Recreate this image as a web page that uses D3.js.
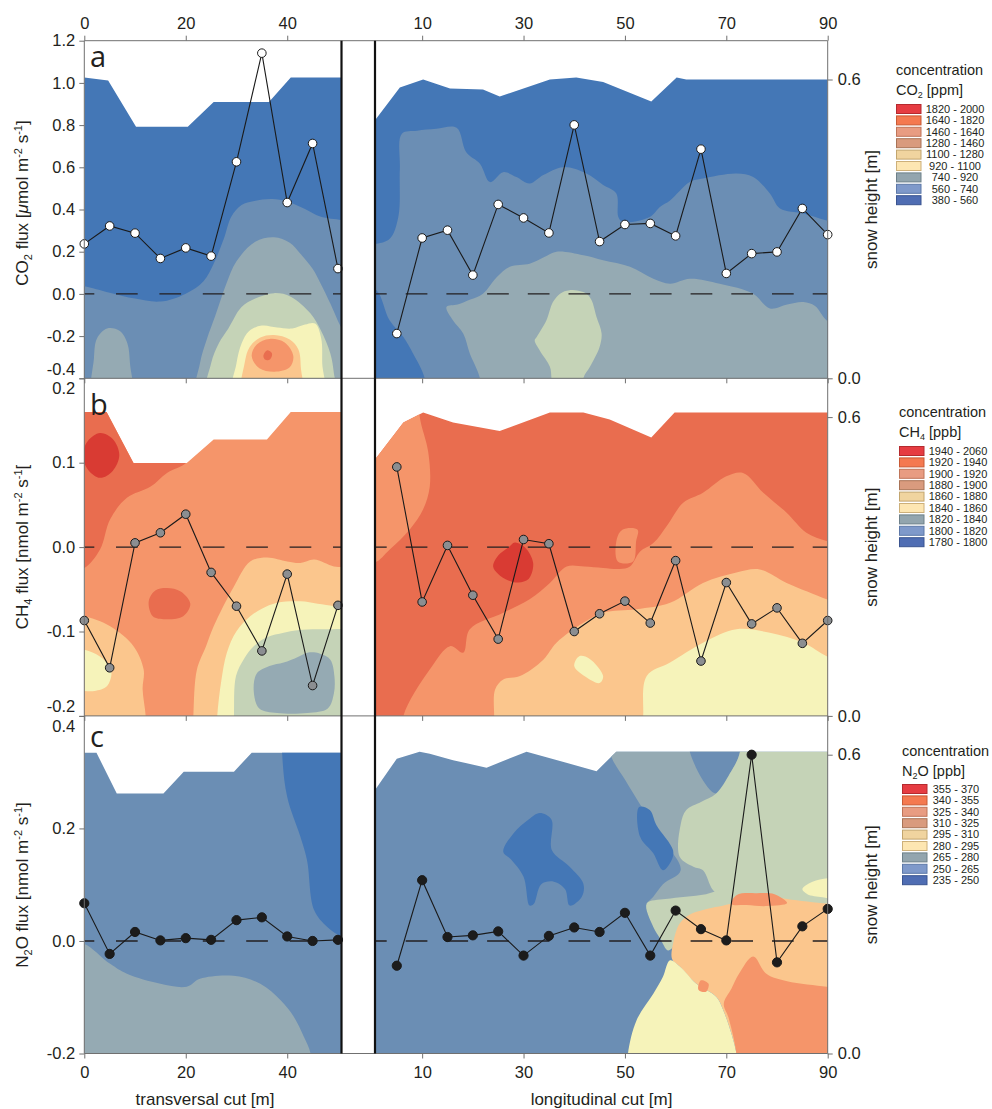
<!DOCTYPE html>
<html><head><meta charset="utf-8">
<script src="https://cdn.jsdelivr.net/npm/d3@7"></script>
<style>
body{margin:0;background:#fff;}
svg{display:block;font-family:"Liberation Sans",Arial,sans-serif;}
</style></head><body>
<svg id="chart" width="992" height="1109"></svg>
<script>
// ================= DATA =================
const transDist = [0,5,10,15,20,25,30,35,40,45,50];
const longDist  = [5,10,15,20,25,30,35,40,45,50,55,60,65,70,75,80,85,90];

const co2FluxTrans = [0.237,0.322,0.288,0.168,0.218,0.179,0.626,1.141,0.433,0.713,0.120];
const co2FluxLong  = [-0.188,0.265,0.302,0.089,0.424,0.360,0.289,0.801,0.248,0.329,0.334,0.275,0.686,0.097,0.191,0.199,0.405,0.281];
const ch4FluxTrans = [-0.087,-0.143,0.005,0.017,0.039,-0.030,-0.070,-0.123,-0.032,-0.164,-0.069];
const ch4FluxLong  = [0.095,-0.065,0.002,-0.057,-0.109,0.009,0.004,-0.100,-0.079,-0.064,-0.090,-0.016,-0.135,-0.042,-0.091,-0.072,-0.114,-0.087];
const n2oFluxTrans = [0.067,-0.023,0.016,0.001,0.005,0.002,0.037,0.042,0.008,0.000,0.002];
const n2oFluxLong  = [-0.044,0.108,0.007,0.010,0.017,-0.026,0.009,0.024,0.016,0.050,-0.026,0.054,0.021,0.001,0.331,-0.038,0.026,0.057];

// snow surface profiles [distance m, snow height m]
const snowTransA = [[0,0.604],[4.7,0.598],[10.2,0.505],[20.4,0.505],[25.5,0.555],[36.4,0.555],[40.7,0.604],[50.7,0.604]];
const snowLongA  = [[0.7,0.518],[5.6,0.584],[10.2,0.600],[15.5,0.582],[22,0.580],[25.3,0.566],[35.2,0.600],[40.4,0.604],[45.7,0.595],[55.2,0.556],[60.2,0.604],[62.1,0.600],[90,0.600]];
const snowTransB = [[0,0.61],[4.4,0.61],[9.7,0.508],[20.2,0.508],[25.5,0.555],[36,0.555],[40.7,0.61],[50.7,0.61]];
const snowLongB  = [[0.7,0.515],[6.3,0.589],[10.2,0.609],[16.1,0.589],[25.3,0.572],[35.2,0.609],[41.8,0.609],[47,0.595],[55.2,0.559],[59.8,0.609],[90,0.609]];
const snowTransC = [[0,0.604],[2.4,0.604],[6.4,0.522],[15.6,0.522],[19.6,0.566],[29.5,0.566],[33,0.604],[50.7,0.604]];
const snowLongC  = [[0.7,0.529],[5,0.592],[9.5,0.606],[11.5,0.602],[16.1,0.589],[22.7,0.574],[30.6,0.606],[44.4,0.567],[48.3,0.606],[90,0.606]];

// concentration class breaks
const co2Breaks = [380,560,740,920,1100,1280,1460,1640,1820,2000];
const ch4Breaks = [1780,1800,1820,1840,1860,1880,1900,1920,1940,2060];
const n2oBreaks = [235,250,265,280,295,310,325,340,355,370];

// background concentration of each section
const co2TransBg = 470, co2LongBg = 470, ch4TransBg = 1910, ch4LongBg = 1930, n2oTransBg = 257, n2oLongBg = 257;

// concentration zones: [concentration, outline in [distance m, snow height m]]
const co2TransRegions = [
 [650,[[-2,-0.05],[-2,0.188],[0,0.185],[5,0.172],[10,0.16],[15,0.154],[20,0.17],[23.5,0.195],[25.5,0.23],[27.5,0.28],[29,0.325],[31,0.348],[33.5,0.356],[37,0.36],[40,0.355],[43.5,0.34],[46.5,0.325],[50.7,0.318],[53,0.315],[53,-0.05]]],
 [830,[[1.8,-0.05],[1.9,0.04],[2.5,0.08],[4.5,0.1],[7,0.095],[8.5,0.07],[9,0.03],[9.2,-0.05]]],
 [830,[[22.3,-0.05],[22.8,0.03],[24.2,0.08],[25.8,0.125],[28,0.19],[30,0.235],[33.7,0.274],[37.4,0.283],[40.5,0.272],[42.6,0.25],[45,0.22],[46.6,0.19],[48.5,0.15],[50,0.115],[51.5,0.08],[52,-0.05]]],
 [1010,[[24.3,-0.05],[25,0.03],[26.5,0.07],[28.4,0.1],[31,0.143],[33.7,0.16],[37.4,0.171],[40.7,0.164],[44.6,0.13],[46.6,0.097],[48.5,0.05],[49.2,0.01],[49.5,-0.05]]],
 [1190,[[29.3,-0.05],[30,0.03],[31,0.07],[32.5,0.095],[35,0.106],[38,0.102],[41,0.1],[43.5,0.108],[45.5,0.11],[46.7,0.08],[46.9,0.03],[47,-0.05]]],
 [1370,[[31.2,-0.05],[31.6,0.03],[32.6,0.063],[34.7,0.082],[37.4,0.087],[40.5,0.078],[42.2,0.058],[42.7,0.02],[42.8,-0.05]]],
 [1550,[[33,0.045],[34,0.068],[36.5,0.079],[39.5,0.072],[41.2,0.045],[40.5,0.022],[37.5,0.013],[34.5,0.02]]],
 [1730,[[35.3,0.045],[36,0.056],[37,0.05],[36.6,0.038],[35.7,0.037]]]
];
const co2LongRegions = [
 [650,[[-2,0.27],[1,0.27],[3.6,0.28],[5.3,0.324],[5.6,0.42],[6,0.491],[9,0.497],[12.8,0.501],[16.8,0.503],[18.7,0.454],[21.4,0.431],[23.4,0.394],[26,0.414],[28.6,0.404],[31.2,0.391],[33.9,0.408],[37.8,0.424],[42.4,0.411],[45.7,0.388],[48.3,0.371],[48.7,0.324],[49.6,0.314],[54.9,0.324],[56.9,0.344],[58.9,0.357],[62.8,0.394],[65.4,0.401],[72,0.411],[75.3,0.404],[78.6,0.371],[80.6,0.341],[85.2,0.331],[89.8,0.317],[93,0.31],[93,-0.05],[10.6,-0.05],[10.5,0],[8.2,0.05],[6.3,0.083],[3.6,0.116],[1,0.177],[-2,0.19]]],
 [830,[[21.6,-0.05],[21.4,0],[19.4,0.05],[18.1,0.09],[16.1,0.116],[14.8,0.143],[17,0.148],[19.5,0.158],[22,0.17],[24.7,0.203],[27.3,0.224],[31.2,0.23],[34,0.243],[36.5,0.254],[41.8,0.247],[45.7,0.237],[51,0.224],[55.6,0.2],[58.9,0.19],[62.8,0.2],[68.7,0.19],[75.3,0.17],[78.6,0.14],[82,0.148],[85.2,0.153],[87.5,0.145],[89.8,0.116],[93,0.1],[93,-0.05]]],
 [1010,[[35.6,-0.05],[35.5,0],[35.2,0.023],[33.2,0.056],[32.2,0.076],[32.6,0.083],[34.5,0.116],[35.8,0.153],[37.2,0.17],[39.1,0.177],[42.4,0.17],[43.4,0.157],[44.4,0.123],[45.4,0.09],[45,0.063],[43.1,0.023],[41.8,0],[41.7,-0.05]]]
];
const ch4TransRegions = [
 [1930,[[-2,0.297],[0,0.297],[3.1,0.334],[5.1,0.395],[8.4,0.438],[13,0.46],[16.3,0.488],[20.2,0.51],[22,0.56],[22.5,0.7],[-2,0.7]]],
 [1950,[[-0.3,0.524],[0.7,0.552],[3.1,0.568],[5.6,0.556],[6.9,0.524],[5.6,0.492],[3.1,0.478],[0.7,0.495]]],
 [1930,[[12.7,0.23],[14,0.252],[16.3,0.257],[19,0.25],[20.9,0.225],[19.5,0.2],[16,0.194],[13.5,0.2]]],
 [1890,[[-2,0.2],[0,0.2],[5.1,0.18],[9.7,0.14],[11.7,0.093],[11.5,0.053],[12.1,0],[12.2,-0.05],[-2,-0.05]]],
 [1870,[[-2,0.135],[0,0.133],[3,0.12],[5.3,0.093],[4.5,0.06],[2,0.05],[0,0.05],[-2,0.05]]],
 [1890,[[21.4,-0.05],[21.5,0],[22.2,0.093],[24,0.14],[25.5,0.18],[29.5,0.26],[32.7,0.31],[36,0.318],[40,0.31],[42.6,0.307],[45.3,0.314],[49.2,0.3],[51,0.298],[53,0.29],[53,-0.05]]],
 [1870,[[26,-0.05],[26.2,0],[27,0.07],[28.1,0.127],[30,0.17],[32.7,0.2],[35,0.215],[38,0.227],[42.6,0.23],[46,0.225],[49.2,0.22],[51,0.215],[53,0.21],[53,-0.05]]],
 [1850,[[29.4,-0.05],[29.5,0],[29.9,0.08],[31.5,0.115],[33.4,0.14],[36,0.158],[39.3,0.167],[42,0.172],[45.9,0.174],[49,0.174],[51,0.174],[53,0.17],[53,-0.05]]],
 [1830,[[33.4,0.05],[34,0.085],[36.5,0.1],[39.3,0.107],[42,0.118],[44,0.127],[46.5,0.125],[48.5,0.113],[49.3,0.08],[49.2,0.045],[48,0.015],[44,0.006],[38,0.006],[34.5,0.015]]]
];
const ch4LongRegions = [
 [1910,[[-2,0.31],[0.7,0.308],[3.6,0.334],[7.6,0.375],[10.2,0.415],[11.5,0.46],[11.2,0.53],[9.5,0.602],[9,0.7],[-2,0.7]]],
 [1910,[[6.2,-0.05],[6.3,0],[11.5,0.093],[15.5,0.14],[18.1,0.127],[19.4,0.174],[26,0.207],[31.2,0.234],[35.2,0.267],[38.5,0.3],[42,0.3],[45.7,0.297],[49,0.295],[51,0.3],[53,0.33],[55.6,0.347],[58.5,0.385],[61.5,0.428],[65.4,0.448],[70,0.481],[73.3,0.488],[77.3,0.448],[81.9,0.408],[85.8,0.368],[89.8,0.351],[93,0.34],[93,-0.05]]],
 [1910,[[48.6,0.31],[48.4,0.355],[49.5,0.374],[52.5,0.374],[52.2,0.35],[51.6,0.31]]],
 [1950,[[24,0.3],[25,0.322],[27,0.338],[28.3,0.348],[30.3,0.338],[31.9,0.307],[31,0.275],[29,0.268],[27,0.272],[25,0.285]]],
 [1890,[[24.3,-0.05],[24.2,0],[24.4,0.053],[26,0.073],[29.3,0.08],[33.9,0.113],[36.5,0.147],[41.8,0.187],[45.7,0.207],[52.3,0.214],[58.9,0.227],[65.4,0.267],[72,0.288],[76.6,0.294],[81.9,0.267],[89.8,0.234],[93,0.22],[93,-0.05]]],
 [1870,[[53.5,-0.05],[53.6,0],[54.3,0.08],[58.9,0.107],[65.4,0.147],[72,0.174],[78.6,0.167],[85.2,0.147],[89.8,0.12],[93,0.11],[93,-0.05]]],
 [1870,[[40,0.1],[41,0.12],[43,0.115],[45.7,0.08],[45,0.066],[42,0.08]]]
];
const n2oTransRegions = [
 [243,[[39,0.75],[39,0.602],[40,0.515],[42.6,0.435],[43.9,0.388],[45.3,0.288],[47.9,0.254],[50.9,0.234],[53,0.23],[53,0.75]]],
 [272,[[-2,0.22],[0,0.22],[5.1,0.18],[8.4,0.16],[15,0.14],[20.2,0.134],[22.8,0.15],[29.4,0.156],[34.7,0.14],[38.7,0.107],[41.3,0.074],[43.3,0.033],[44.6,0],[44.8,-0.05],[-2,-0.05]]]
];
const n2oLongRegions = [
 [272,[[47,0.75],[47,0.606],[50,0.55],[53,0.5],[57,0.435],[61,0.368],[57.5,0.34],[55.6,0.315],[54.3,0.3],[60,0.295],[66,0.3],[70,0.32],[72,0.4],[72,0.75]]],
 [257,[[62.8,0.75],[62.8,0.606],[68,0.522],[70.7,0.562],[72.7,0.606],[72.7,0.75]]],
 [287,[[72.7,0.75],[72.7,0.606],[70.7,0.562],[68,0.522],[65,0.505],[62.1,0.489],[61,0.46],[60.8,0.395],[63.5,0.375],[65.4,0.368],[67.4,0.328],[70.7,0.305],[76,0.31],[82,0.305],[93,0.3],[93,0.75]]],
 [287,[[54.3,0.301],[58,0.31],[62,0.315],[66,0.32],[70,0.33],[72,0.32],[71,0.295],[66,0.285],[62,0.27],[61,0.26],[60,0.221],[58.5,0.207],[57,0.23],[55.6,0.254]]],
 [243,[[26,0.405],[28,0.442],[31,0.47],[33.2,0.483],[35.5,0.47],[35.6,0.408],[39.1,0.375],[41.8,0.341],[41.5,0.315],[39.1,0.297],[38.2,0.33],[36,0.345],[33.5,0.34],[32,0.3],[31.2,0.297],[30,0.355],[27.5,0.39]]],
 [243,[[52.8,0.495],[54.9,0.489],[56.2,0.459],[59.5,0.408],[59.2,0.388],[57.5,0.368],[55.6,0.402],[53,0.435]]],
 [317,[[59.3,0.19],[59.5,0.221],[60.8,0.261],[63,0.28],[65.4,0.288],[70.7,0.3],[77.3,0.318],[82,0.31],[89.8,0.301],[93,0.3],[93,-0.05],[72.2,-0.05],[72,0],[69.4,0.087],[68,0.114],[64.1,0.14],[60.8,0.175]]],
 [302,[[50.5,-0.05],[50.6,0],[52.3,0.067],[55.6,0.12],[57.5,0.154],[58.9,0.187],[60.8,0.175],[64.1,0.14],[68,0.114],[69.4,0.087],[72,0],[72.2,-0.05]]],
 [332,[[72.2,-0.05],[72,0],[70.5,0.07],[69.5,0.1],[71,0.13],[72.5,0.16],[75.3,0.195],[77.9,0.16],[82,0.145],[89.8,0.134],[93,0.13],[93,-0.05]]],
 [332,[[64.5,0.128],[65,0.147],[66.5,0.14],[66,0.124]]],
 [332,[[71,0.3],[72,0.318],[76,0.322],[79.5,0.32],[82,0.302],[78,0.296],[74,0.298]]],
 [302,[[85,0.33],[87,0.345],[90,0.352],[93,0.352],[93,0.31],[89,0.314],[86,0.32]]]
];

// tick values
const fluxTicksA = [-0.4,-0.2,0,0.2,0.4,0.6,0.8,1.0,1.2];
const fluxTicksB = [-0.2,-0.1,0,0.1,0.2];
const fluxTicksC = [-0.2,0,0.2,0.4];
const snowTicks  = [0,0.6];
const transTicks = [0,20,40];
const longTicks  = [10,30,50,70,90];

// colours (low -> high class)
const fillColors   = ["#4477b6","#6b8eb4","#95aab3","#c5d3b7","#f6f3ba","#fbc68d","#f5956a","#e96d4f","#d93b33"];
const legendFill   = ["#4f6db3","#7f99ca","#93a5ae","#fde6b2","#f0d49f","#d99b7e","#e89c82","#f47950","#e63c42"];
const legendStroke = ["#3a5490","#5d78a8","#6d8089","#cdb07a","#c2a56e","#a87356","#bf7559","#c85a35","#b52a2e"];

// ================= DRAW =================
const svg = d3.select("#chart");
const TXT = "#231f20", AX = "#707070";
const xs = {
  T: d3.scaleLinear().domain([0,50.7]).range([84.3,341.5]),
  L: d3.scaleLinear().domain([0.7,90]).range([375,827.7])
};
const rows = [[40.7,378.3],[378.3,715.9],[715.9,1053.5]];
const PXM = 498;
const X0 = 84.3, X1 = 827.7;

const panels = [
 {letter:"a", ly:66.7, fd:[-0.4,1.2], ticks:fluxTicksA, breaks:co2Breaks, mk:"#ffffff", gas:["CO","2"," [ppm]"], yt:["CO","2"," flux [","μ","mol m","-2"," s","-1","]"], ytY:203,
  halves:[{k:"T",snow:snowTransA,reg:co2TransRegions,bg:co2TransBg,dist:transDist,flux:co2FluxTrans},
          {k:"L",snow:snowLongA,reg:co2LongRegions,bg:co2LongBg,dist:longDist,flux:co2FluxLong}]},
 {letter:"b", ly:415, fd:[-0.2,0.2], ticks:fluxTicksB, breaks:ch4Breaks, mk:"#8b8e91", gas:["CH","4"," [ppb]"], yt:["CH","4"," flux [","","nmol m","-2"," s","-1","["], ytY:547,
  halves:[{k:"T",snow:snowTransB,reg:ch4TransRegions,bg:ch4TransBg,dist:transDist,flux:ch4FluxTrans},
          {k:"L",snow:snowLongB,reg:ch4LongRegions,bg:ch4LongBg,dist:longDist,flux:ch4FluxLong}]},
 {letter:"c", ly:746.7, fd:[-0.2,0.4], ticks:fluxTicksC, breaks:n2oBreaks, mk:"#1c1c1c", gas:["N","2","O [ppb]"], yt:["N","2","O flux [","","nmol m","-2"," s","-1","]"], ytY:885,
  halves:[{k:"T",snow:snowTransC,reg:n2oTransRegions,bg:n2oTransBg,dist:transDist,flux:n2oFluxTrans},
          {k:"L",snow:snowLongC,reg:n2oLongRegions,bg:n2oLongBg,dist:longDist,flux:n2oFluxLong}]}
];
const legendX = [896, 899, 902];
const legendTY = [75, 417, 756];
const legendSY = [104, 446, 784];
const legendLabOff = [59, 59, 54];

const defs = svg.append("defs");
const layerFill = svg.append("g");
const layerLines = svg.append("g");
const layerAxes = svg.append("g");

function styleAxis(g, showText){
  g.select(".domain").remove();
  g.selectAll(".tick line").attr("stroke", AX).attr("stroke-width", 1);
  g.selectAll(".tick text").attr("fill", TXT).attr("font-size", 16.5)
    .attr("font-family", '"Liberation Sans", Arial, sans-serif');
  if(!showText) g.selectAll(".tick text").remove();
}

panels.forEach((p, i) => {
  const [top, bot] = rows[i];
  const yF = d3.scaleLinear().domain(p.fd).range([bot, top]);
  const yH = d3.scaleLinear().domain([0, (bot-top)/PXM]).range([bot, top]);
  const color = d3.scaleThreshold().domain(p.breaks.slice(1,-1)).range(fillColors);

  p.halves.forEach(h => {
    const x = xs[h.k];
    const id = `clip${i}${h.k}`;
    const area = d3.area().x(d => x(d[0])).y0(yH(0)).y1(d => yH(d[1]));
    defs.append("clipPath").attr("id", id).append("path").attr("d", area(h.snow));
    const g = layerFill.append("g").attr("clip-path", `url(#${id})`);
    g.append("rect").attr("x", x.range()[0]).attr("y", top)
      .attr("width", x.range()[1]-x.range()[0]).attr("height", bot-top).attr("fill", color(h.bg));
    const shape = d3.line().x(d => x(d[0])).y(d => yH(d[1])).curve(d3.curveCatmullRomClosed.alpha(0.5));
    g.selectAll("path.zone").data(h.reg).join("path").attr("class","zone")
      .attr("d", d => shape(d[1])).attr("fill", d => color(d[0]));

    // zero line
    layerLines.append("line").attr("x1", x.range()[0]).attr("x2", x.range()[1])
      .attr("y1", yF(0)).attr("y2", yF(0)).attr("stroke", TXT).attr("stroke-width", 1.4)
      .attr("stroke-dasharray", h.k === "T" ? "21.7,21.7" : "21.7,19")
      .attr("stroke-dashoffset", h.k === "T" ? 11.7 : 10);

    // flux series
    const pts = h.dist.map((d, j) => [d, h.flux[j]]);
    layerLines.append("path").attr("d", d3.line().x(d => x(d[0])).y(d => yF(d[1]))(pts))
      .attr("fill", "none").attr("stroke", "#1a1a1a").attr("stroke-width", 1.1);
    layerLines.selectAll(null).data(pts).join("circle")
      .attr("cx", d => x(d[0])).attr("cy", d => yF(d[1])).attr("r", i === 2 ? 4.6 : 4.3)
      .attr("fill", p.mk).attr("stroke", "#1a1a1a").attr("stroke-width", 1);

    // top axis (first row only)
    if(i === 0){
      const gt = layerAxes.append("g").attr("transform", `translate(0,${top})`)
        .call(d3.axisTop(x).tickValues(h.k === "T" ? transTicks : longTicks).tickSize(5).tickSizeOuter(0).tickPadding(7));
      styleAxis(gt, true);
    }
    // bottom axis of each row
    const gb = layerAxes.append("g").attr("transform", `translate(0,${bot})`)
      .call(d3.axisBottom(x).tickValues(h.k === "T" ? transTicks : longTicks).tickSize(5).tickSizeOuter(0).tickPadding(8));
    styleAxis(gb, i === 2);
  });

  // left axis
  const gl = layerAxes.append("g").attr("transform", `translate(${X0},0)`)
    .call(d3.axisLeft(yF).tickValues(p.ticks).tickSize(5).tickSizeOuter(0).tickPadding(4).tickFormat(d => d.toFixed(1)));
  styleAxis(gl, true);
  gl.selectAll(".tick text").attr("transform", d => {
    if(d === p.fd[0] && i < 2) return "translate(0,-9.5)";
    if(d === p.fd[1] && i > 0) return "translate(0,10)";
    return null;
  });
  // right axis
  const gr = layerAxes.append("g").attr("transform", `translate(${X1},0)`)
    .call(d3.axisRight(yH).tickValues(snowTicks).tickSize(5).tickSizeOuter(0).tickPadding(5).tickFormat(d => d.toFixed(1)));
  styleAxis(gr, true);

  // frame lines
  layerAxes.append("line").attr("x1", X0).attr("x2", X1).attr("y1", top).attr("y2", top).attr("stroke", AX);
  if(i === 2) layerAxes.append("line").attr("x1", X0).attr("x2", X1).attr("y1", bot).attr("y2", bot).attr("stroke", AX);

  // panel letter
  layerAxes.append("text").attr("x", 90).attr("y", p.ly).attr("font-size", 29)
    .attr("font-family", '"Open Sans", "Liberation Sans", sans-serif').attr("fill", TXT).text(p.letter);

  // y title (left)
  const yt = layerAxes.append("text").attr("transform", `translate(28,${p.ytY}) rotate(-90)`)
    .attr("text-anchor", "middle").attr("font-size", 17).attr("fill", TXT);
  const t = p.yt;
  yt.append("tspan").text(t[0]);
  yt.append("tspan").attr("font-size", 11).attr("dy", 4).text(t[1]);
  yt.append("tspan").attr("dy", -4).text(t[2]);
  if(t[3]) yt.append("tspan").attr("font-style", "italic").text(t[3]);
  yt.append("tspan").text(t[4]);
  yt.append("tspan").attr("font-size", 11).attr("dy", -6).text(t[5]);
  yt.append("tspan").attr("dy", 6).text(t[6]);
  yt.append("tspan").attr("font-size", 11).attr("dy", -6).text(t[7]);
  yt.append("tspan").attr("dy", 6).text(t[8]);

  // right title
  layerAxes.append("text").attr("transform", `translate(876.5,${(top+bot)/2}) rotate(-90)`)
    .attr("text-anchor", "middle").attr("font-size", 17).attr("fill", TXT).text("snow height [m]");

  // legend
  const lx = legendX[i];
  layerAxes.append("text").attr("x", lx).attr("y", legendTY[i]).attr("font-size", 14.5).attr("fill", TXT).text("concentration");
  const gt2 = layerAxes.append("text").attr("x", lx).attr("y", legendTY[i] + 19.5).attr("font-size", 14.5).attr("fill", TXT);
  gt2.append("tspan").text(p.gas[0]);
  gt2.append("tspan").attr("font-size", 9).attr("dy", 3).text(p.gas[1]);
  gt2.append("tspan").attr("dy", -3).text(p.gas[2]);
  const idx = d3.range(p.breaks.length - 1).reverse();
  idx.forEach((k, j) => {
    const yy = legendSY[i] + j * 11.4;
    layerAxes.append("rect").attr("x", lx + 0.5).attr("y", yy + 0.5).attr("width", 24.5).attr("height", 9)
      .attr("fill", legendFill[k]).attr("stroke", legendStroke[k]).attr("stroke-width", 1);
    layerAxes.append("text").attr("x", lx + legendLabOff[i]).attr("y", yy + 8.7).attr("text-anchor", "middle")
      .attr("font-size", 11).attr("fill", TXT).text(`${p.breaks[k]} - ${p.breaks[k+1]}`);
  });
});

// side frame lines and section separators
layerAxes.append("line").attr("x1", X0).attr("x2", X0).attr("y1", rows[0][0]).attr("y2", rows[2][1]).attr("stroke", AX);
layerAxes.append("line").attr("x1", X1).attr("x2", X1).attr("y1", rows[0][0]).attr("y2", rows[2][1]).attr("stroke", AX);
[xs.T.range()[1], xs.L.range()[0]].forEach(xx => {
  layerAxes.append("line").attr("x1", xx).attr("x2", xx).attr("y1", rows[0][0]).attr("y2", rows[2][1])
    .attr("stroke", "#111").attr("stroke-width", 2.2);
});

// bottom titles
layerAxes.append("text").attr("x", 205).attr("y", 1104.5).attr("text-anchor", "middle").attr("font-size", 17).attr("fill", TXT).text("transversal cut [m]");
layerAxes.append("text").attr("x", 601.5).attr("y", 1104.5).attr("text-anchor", "middle").attr("font-size", 17).attr("fill", TXT).text("longitudinal cut [m]");
</script>
</body></html>
